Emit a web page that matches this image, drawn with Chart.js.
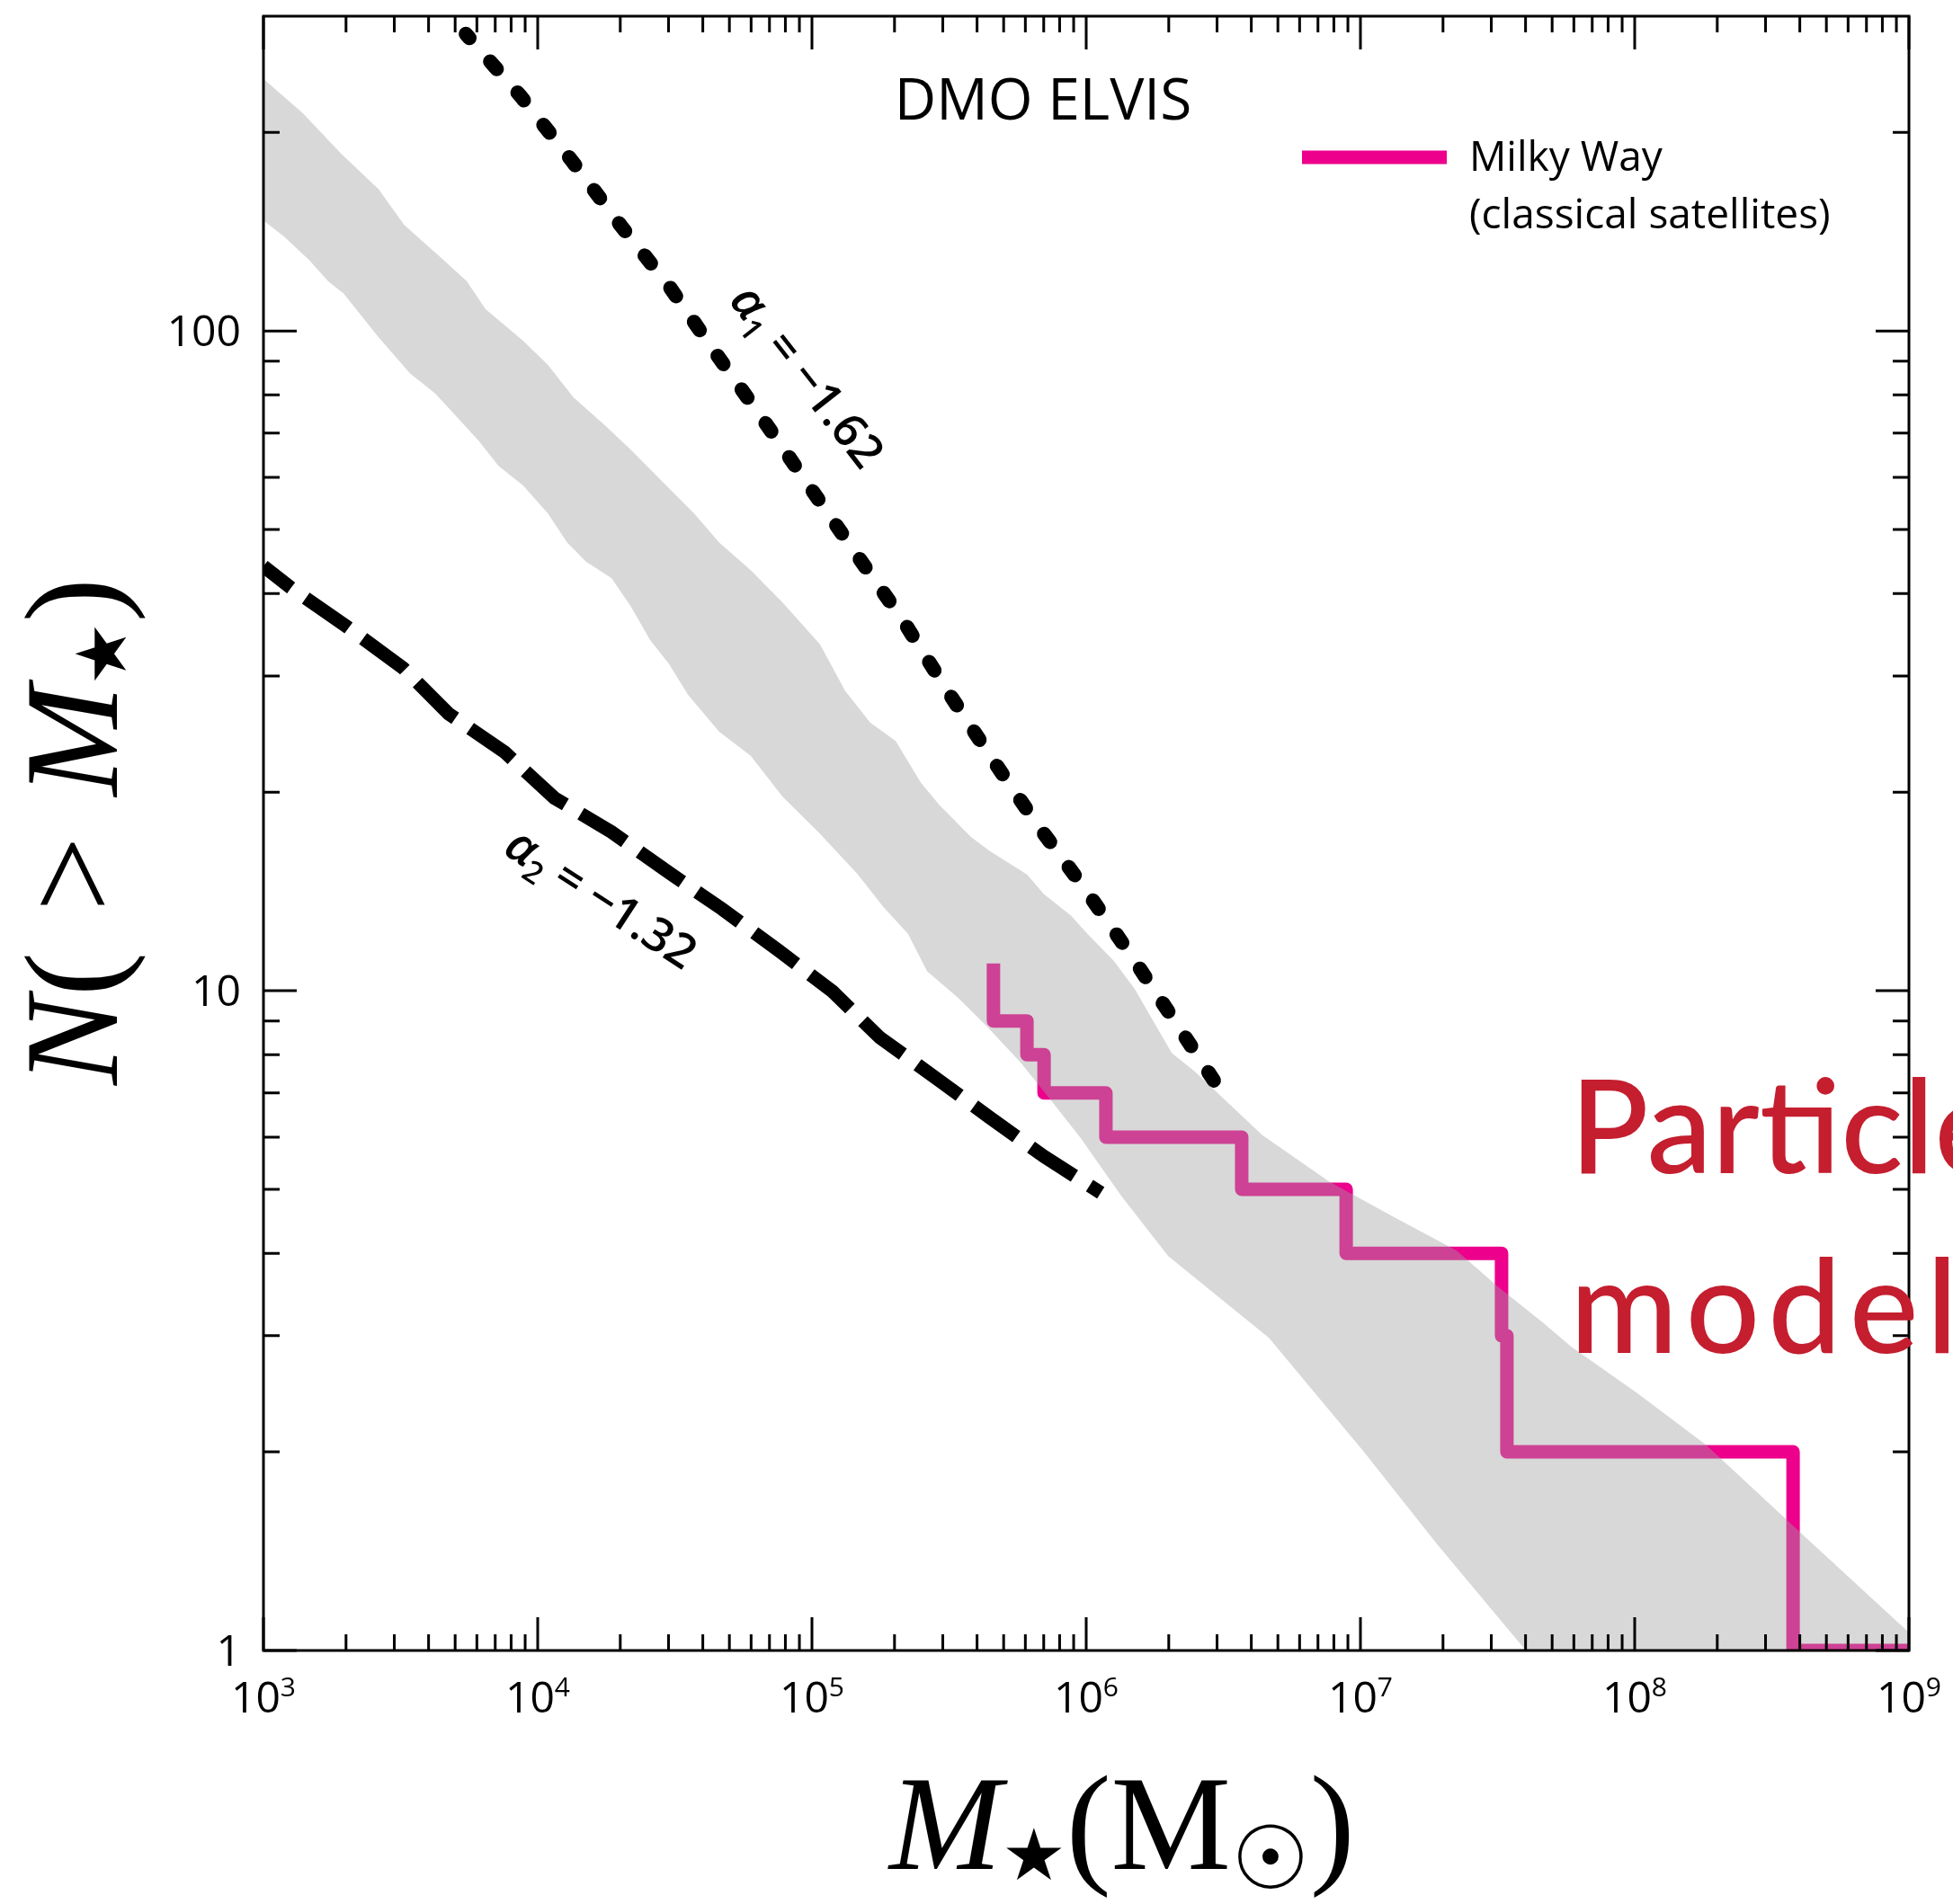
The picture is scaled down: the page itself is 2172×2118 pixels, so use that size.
<!DOCTYPE html>
<html>
<head>
<meta charset="utf-8">
<script src="https://cdn.jsdelivr.net/npm/chart.js@4.4.1/dist/chart.umd.min.js"></script>
<style>
  html, body { margin: 0; padding: 0; background: #fff; }
  canvas { display: block; }
</style>
</head>
<body>
<canvas id="smf" width="2172" height="2118"></canvas>
<script>
// Milky Way classical satellites, cumulative count (step corners)
var mwMass = [4.59e5, 4.59e5, 6.08e5, 7.02e5, 1.18e6, 3.69e6, 8.87e6, 3.27e7, 3.42e7, 3.78e8, 1e9];
var mwCount = [11, 9, 8, 7, 6, 5, 4, 3, 2, 1, 1];

// DMO ELVIS scatter band
var bandUpperMass = [1e3, 1.39e3, 1.91e3, 2.63e3, 3.25e3, 4.45e3, 5.51e3, 6.45e3, 8.86e3, 1.09e4,
  1.35e4, 1.76e4, 2.18e4, 2.86e4, 3.72e4, 4.59e4, 5.98e4, 7.80e4, 1.07e5, 1.32e5,
  1.63e5, 2.02e5, 2.49e5, 2.92e5, 3.80e5, 4.43e5, 6.08e5, 7.02e5, 8.80e5, 1.01e6,
  1.26e6, 1.50e6, 2.05e6, 2.49e6, 4.39e6, 7.68e6, 1.35e7, 2.24e7, 3.15e7, 4.67e7,
  5.85e7, 1.03e8, 1.82e8, 4.23e8, 1e9];
var bandUpperN = [241, 214, 186, 164, 145, 129, 119, 108, 96.6, 88.8,
  79.3, 71.9, 66.1, 59.0, 52.9, 47.8, 43.4, 38.8, 33.5, 28.5,
  25.5, 23.9, 20.7, 19.1, 17.1, 16.3, 15.0, 14.0, 13.0, 12.2,
  11.1, 10.07, 8.05, 7.54, 6.04, 5.14, 4.52, 4.04, 3.57, 3.13,
  2.89, 2.45, 2.05, 1.48, 1.065];
var bandLowerMass = [1e3, 1.19e3, 1.47e3, 1.72e3, 1.96e3, 2.63e3, 3.42e3, 4.23e3, 4.95e3, 6.12e3,
  7.18e3, 8.86e3, 1.09e4, 1.28e4, 1.50e4, 1.86e4, 2.18e4, 2.57e4, 3.01e4, 3.53e4,
  4.59e4, 5.98e4, 7.80e4, 1.07e5, 1.47e5, 1.82e5, 2.24e5, 2.63e5, 3.42e5, 4.32e5,
  5.77e5, 7.63e5, 9.55e5, 1.34e6, 1.99e6, 4.63e6, 1.02e7, 1.90e7, 4.01e7, 1e9];
var bandLowerN = [147, 139, 128, 119, 114, 97.8, 86.3, 80.4, 74.9, 68.0,
  62.5, 58.3, 52.9, 47.8, 44.7, 42.2, 38.3, 34.0, 31.3, 28.1,
  24.7, 22.7, 19.7, 17.3, 15.0, 13.4, 12.2, 10.7, 9.75, 8.85,
  7.78, 6.73, 5.98, 4.89, 3.96, 2.98, 2.01, 1.45, 1, 1];

// power-law slopes
var alpha1Mass = [5.47e3, 8.66e3, 1.32e4, 2.02e4, 3.01e4, 4.46e4, 6.65e4, 9.85e4, 1.45e5, 2.13e5,
  3.08e5, 4.46e5, 6.60e5, 9.85e5, 1.46e6, 2.10e6, 3.20e6];
var alpha1N = [282, 227, 182, 144, 117, 92.5, 73.3, 57.9, 45.9, 36.6,
  28.7, 22.7, 17.9, 14.3, 11.3, 9.0, 6.9];
var alpha2Mass = [1e3, 1.26e3, 2.02e3, 3.24e3, 4.73e3, 7.57e3, 1.15e4, 1.86e4, 3.01e4, 4.70e4,
  7.57e4, 1.19e5, 1.77e5, 2.86e5, 4.46e5, 7.01e5, 1.13e6];
var alpha2N = [44.0, 40.8, 35.6, 30.8, 26.3, 23.0, 19.6, 17.4, 15.1, 13.3,
  11.5, 9.97, 8.49, 7.35, 6.42, 5.61, 4.94];

// axes
var xMajorTicks = [1e3, 1e4, 1e5, 1e6, 1e7, 1e8, 1e9];
var xTickExponents = ["3", "4", "5", "6", "7", "8", "9"];
var yMajorTicks = [1, 10, 100];
var yTickLabels = ["1", "10", "100"];

var tickFont = '48px "Liberation Sans Narrow", "Open Sans", sans-serif';
var serif = '"Liberation Serif", "DejaVu Serif", serif';

function pts(xs, ys) {
  return xs.map(function (v, i) { return { x: v, y: ys[i] }; });
}

function drawRuns(ctx, runs, x, y, align) {
  var total = 0;
  runs.forEach(function (r) {
    ctx.font = r.font;
    r.w = ctx.measureText(r.text).width + (r.gap || 0);
    total += r.w;
  });
  var cx = align === "center" ? x - total / 2 : (align === "right" ? x - total : x);
  ctx.textAlign = "left";
  ctx.textBaseline = "alphabetic";
  runs.forEach(function (r) {
    ctx.font = r.font;
    ctx.fillText(r.text, cx, y + (r.dy || 0));
    cx += r.w;
  });
}

function minorValues(fromExp, toExp, max) {
  var out = [];
  for (var d = fromExp; d < toExp; d++) {
    for (var m = 2; m <= 9; m++) {
      var v = m * Math.pow(10, d);
      if (v < max) out.push(v);
    }
  }
  return out;
}

var decor = {
  id: "decor",
  beforeDraw: function (chart) {
    var ctx = chart.ctx;
    ctx.save();
    ctx.fillStyle = "#fff";
    ctx.fillRect(0, 0, chart.width, chart.height);
    ctx.restore();
  },
  afterDraw: function (chart) {
    var ctx = chart.ctx;
    var a = chart.chartArea;
    var xs = chart.scales.x;
    var ys = chart.scales.y;
    ctx.save();
    ctx.strokeStyle = "#000";
    ctx.fillStyle = "#000";
    ctx.lineWidth = 3;
    ctx.strokeRect(a.left, a.top, a.right - a.left, a.bottom - a.top);

    // inward ticks on all four sides
    ctx.beginPath();
    xMajorTicks.forEach(function (v) {
      var p = xs.getPixelForValue(v);
      ctx.moveTo(p, a.bottom); ctx.lineTo(p, a.bottom - 37);
      ctx.moveTo(p, a.top); ctx.lineTo(p, a.top + 37);
    });
    minorValues(3, 9, 1e9).forEach(function (v) {
      var p = xs.getPixelForValue(v);
      ctx.moveTo(p, a.bottom); ctx.lineTo(p, a.bottom - 18);
      ctx.moveTo(p, a.top); ctx.lineTo(p, a.top + 18);
    });
    yMajorTicks.forEach(function (v) {
      var p = ys.getPixelForValue(v);
      ctx.moveTo(a.left, p); ctx.lineTo(a.left + 37, p);
      ctx.moveTo(a.right, p); ctx.lineTo(a.right - 37, p);
    });
    minorValues(0, 3, 299).forEach(function (v) {
      var p = ys.getPixelForValue(v);
      ctx.moveTo(a.left, p); ctx.lineTo(a.left + 18, p);
      ctx.moveTo(a.right, p); ctx.lineTo(a.right - 18, p);
    });
    ctx.stroke();

    // tick labels
    yMajorTicks.forEach(function (v, i) {
      drawRuns(ctx, [{ text: yTickLabels[i], font: tickFont }], 268, ys.getPixelForValue(v) + 17, "right");
    });
    xMajorTicks.forEach(function (v, i) {
      drawRuns(ctx, [
        { text: "10", font: tickFont },
        { text: xTickExponents[i], font: '30px "Liberation Sans Narrow", "Open Sans", sans-serif', dy: -18 }
      ], xs.getPixelForValue(v), 1905, "center");
    });

    // axis titles
    drawRuns(ctx, [
      { text: "M", font: "italic 150px " + serif },
      { text: "\u2605", font: '80px "DejaVu Sans"', dy: 12 },
      { text: "(", font: "150px " + serif },
      { text: "M", font: "150px " + serif },
      { text: "\u2609", font: '98px "DejaVu Sans"', dy: 22 },
      { text: ")", font: "150px " + serif }
    ], 989, 2079, "left");

    ctx.save();
    ctx.translate(130, 925);
    ctx.rotate(-Math.PI / 2);
    drawRuns(ctx, [
      { text: "N", font: "italic 148px " + serif },
      { text: "(", font: "148px " + serif, gap: 8 },
      { text: " > ", font: "148px " + serif, gap: 8 },
      { text: "M", font: "italic 148px " + serif },
      { text: "\u2605", font: '78px "DejaVu Sans"', dy: 10 },
      { text: ")", font: "148px " + serif }
    ], 0, 0, "center");
    ctx.restore();

    // panel label
    drawRuns(ctx, [{ text: "DMO ELVIS", font: '64px "Open Sans", sans-serif' }], 1160, 133, "center");

    // legend
    ctx.strokeStyle = "#EC008C";
    ctx.lineWidth = 15;
    ctx.beginPath();
    ctx.moveTo(1448, 175); ctx.lineTo(1609, 175);
    ctx.stroke();
    ctx.fillStyle = "#000";
    drawRuns(ctx, [{ text: "Milky Way", font: '46px "Open Sans", sans-serif' }], 1634, 190, "left");
    drawRuns(ctx, [{ text: "(classical satellites)", font: '46px "Open Sans", sans-serif' }], 1634, 254, "left");

    // slope annotations
    ctx.save();
    ctx.translate(897, 419);
    ctx.rotate(52 * Math.PI / 180);
    drawRuns(ctx, [
      { text: "\u03b1", font: 'italic 600 54px "Open Sans", sans-serif' },
      { text: "1", font: '600 34px "Open Sans", sans-serif', dy: 11 },
      { text: " = \u22121.62", font: '600 52px "Open Sans", sans-serif' }
    ], 0, 17, "center");
    ctx.restore();

    ctx.save();
    ctx.translate(668, 1000);
    ctx.rotate(33 * Math.PI / 180);
    drawRuns(ctx, [
      { text: "\u03b1", font: 'italic 600 54px "Open Sans", sans-serif' },
      { text: "2", font: '600 34px "Open Sans", sans-serif', dy: 11 },
      { text: " = \u22121.32", font: '600 52px "Open Sans", sans-serif' }
    ], 0, 17, "center");
    ctx.restore();

    // overlaid slide text, runs off the right edge
    ctx.fillStyle = "#C41E2F";
    drawRuns(ctx, [{ text: "Particle", font: '500 145px Lato, "Open Sans", sans-serif' }], 1746, 1305, "left");
    ctx.letterSpacing = "9px";
    drawRuns(ctx, [{ text: "model", font: '500 145px Lato, "Open Sans", sans-serif' }], 1746, 1505, "left");
    ctx.letterSpacing = "0px";
    ctx.restore();
  }
};

var ctx = document.getElementById("smf").getContext("2d");
var chart = new Chart(ctx, {
  type: "line",
  data: {
    datasets: [
      {
        label: "Milky Way (classical satellites)",
        data: pts(mwMass, mwCount),
        borderColor: "#EC008C",
        borderWidth: 15,
        borderJoinStyle: "round",
        stepped: "before",
        fill: false,
        clip: 0,
        order: 3
      },
      {
        label: "DMO ELVIS upper",
        data: pts(bandUpperMass, bandUpperN),
        borderWidth: 0,
        borderColor: "rgba(0,0,0,0)",
        backgroundColor: "rgba(161,161,161,0.41)",
        fill: "+1",
        order: 2
      },
      {
        label: "DMO ELVIS lower",
        data: pts(bandLowerMass, bandLowerN),
        borderWidth: 0,
        borderColor: "rgba(0,0,0,0)",
        fill: false,
        order: 2
      },
      {
        label: "alpha1",
        data: pts(alpha1Mass, alpha1N),
        borderColor: "#000",
        borderWidth: 16,
        borderDash: [11, 35],
        borderDashOffset: 5,
        borderCapStyle: "round",
        fill: false,
        clip: 0,
        order: 1
      },
      {
        label: "alpha2",
        data: pts(alpha2Mass, alpha2N),
        borderColor: "#000",
        borderWidth: 15,
        borderDash: [58, 20],
        borderDashOffset: 19,
        fill: false,
        clip: 0,
        order: 1
      }
    ]
  },
  options: {
    responsive: false,
    devicePixelRatio: 1,
    animation: false,
    layout: { padding: { left: 293, right: 49, top: 18, bottom: 282 } },
    elements: { point: { radius: 0 }, line: { tension: 0 } },
    plugins: {
      legend: { display: false },
      tooltip: { enabled: false },
      filler: { propagate: false }
    },
    scales: {
      x: { type: "logarithmic", min: 1e3, max: 1e9, display: false },
      y: { type: "logarithmic", min: 1, max: 300, display: false }
    }
  },
  plugins: [decor]
});
</script>
</body>
</html>
